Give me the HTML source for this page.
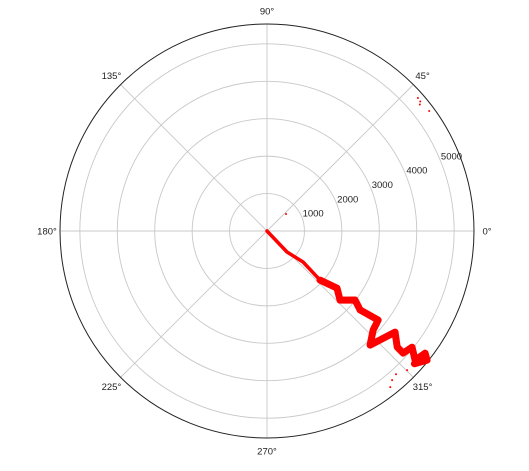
<!DOCTYPE html>
<html><head><meta charset="utf-8"><style>
body{margin:0;background:#fff}
svg{display:block;font-family:"Liberation Sans",sans-serif;font-size:9.5px}
</style></head><body>
<svg id="chart" width="529" height="471" viewBox="0 0 529 471">
<g id="grid"></g>
<g id="labels"></g>
<g id="data"></g>
</svg>
<script>
const thetaDeg=[0,313.6,319.3,317.2,320.8,316.6,321.9,319.7,321.3,317,312.1,321.7,318.3,318.1,321.3,318.9,322.3,321.1,318];
const radius=[0,775,1270,1930,2414,2686,2990,3262,3805,3878,4108,4359,4659,4885,4965,5250,5338,5495,5300];
const strayTheta=[315.2,308.3,310,312,41.4,40.2,39.6,36.5,41.8];
const strayR=[5275,5313,5200,5150,5375,5360,5300,5390,682];
const ringTicks=[1000,2000,3000,4000,5000];
const angleTicks=[0,45,90,135,180,225,270,315];
const cx=267,cy=231,R=207,rMax=5530;
const ns="http://www.w3.org/2000/svg";
function rp(r){return r/rMax*R;}
function pt(t,r){const a=t*Math.PI/180;return [cx+rp(r)*Math.cos(a),cy-rp(r)*Math.sin(a)];}
function mk(tag,attrs,parent){const e=document.createElementNS(ns,tag);for(const k in attrs)e.setAttribute(k,attrs[k]);parent.appendChild(e);return e;}
const grid=document.getElementById('grid'),labels=document.getElementById('labels'),data=document.getElementById('data');
ringTicks.forEach(v=>{
 const c=mk('circle',{cx:cx,cy:cy,r:rp(v),fill:'none',stroke:'#c8c8c8','stroke-width':0.9},grid);
 
 
 const p=pt(22.5,v);
 const t=mk('text',{x:p[0]+1,y:p[1],fill:'#222'},labels);t.textContent=v;
 
 
});
angleTicks.forEach(a=>{
 const p=pt(a,rMax);
 const l=mk('line',{x1:cx,y1:cy,x2:p[0],y2:p[1],stroke:'#c8c8c8','stroke-width':0.9},grid);
 
 
 const rad=a*Math.PI/180,q=[cx+(R+13)*Math.cos(rad),cy-(R+13)*Math.sin(rad)];
 const t=mk('text',{x:q[0],y:q[1]+3.5,'text-anchor':'middle',fill:'#222'},labels);t.textContent=a+'°';
 
 
});
const oc=mk('circle',{cx:cx,cy:cy,r:R,fill:'none',stroke:'#222','stroke-width':1},grid);


const pts=thetaDeg.map((t,i)=>pt(t,radius[i]));
const p1=mk('polyline',{points:pts.slice(0,4).map(p=>p.join(',')).join(' '),fill:'none',stroke:'#ff0000','stroke-width':3.5,'stroke-linejoin':'round','stroke-linecap':'round'},data);


const p2=mk('polyline',{points:pts.slice(3).map(p=>p.join(',')).join(' '),fill:'none',stroke:'#ff0000','stroke-width':7,'stroke-linejoin':'round','stroke-linecap':'round'},data);


strayTheta.forEach((t,i)=>{const p=pt(t,strayR[i]);
 const c=mk('circle',{cx:p[0],cy:p[1],r:1,fill:'#ff0000'},data);
 
 });
</script>
</body></html>
